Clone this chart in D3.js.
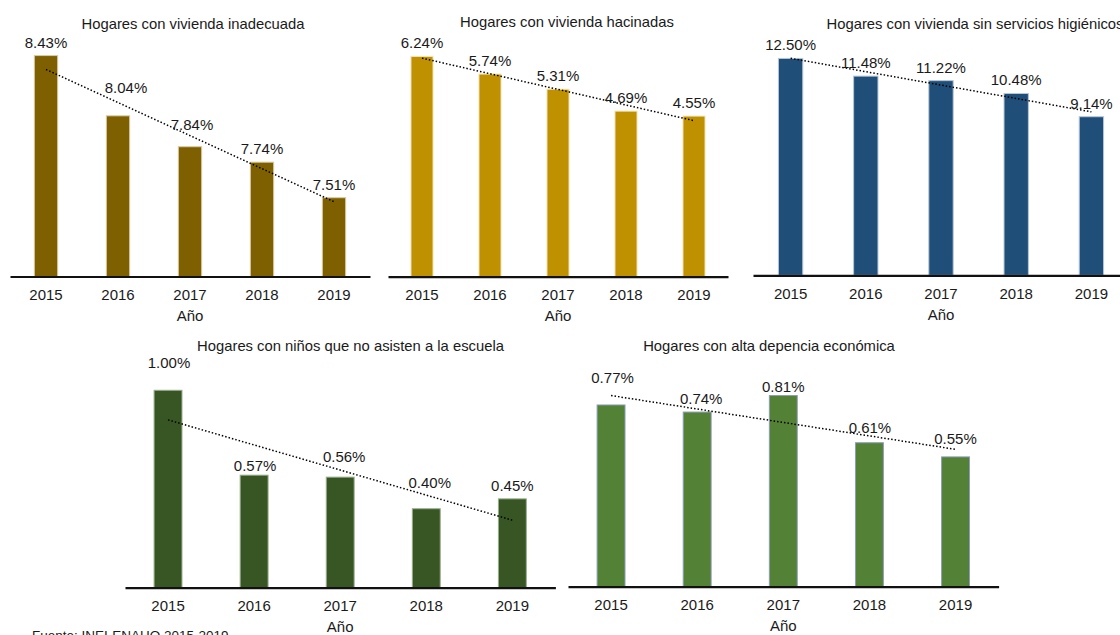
<!DOCTYPE html>
<html>
<head>
<meta charset="utf-8">
<script src="https://cdn.jsdelivr.net/npm/d3@7"></script>
<style>
  body { margin: 0; background: #fff; }
  svg { display: block; font-family: "Liberation Sans", Arial, sans-serif; }
</style>
</head>
<body>
<svg id="chart" width="1120" height="635"></svg>
<script>
// data
var years = ["2015", "2016", "2017", "2018", "2019"];
var titles = [
  "Hogares con vivienda inadecuada",
  "Hogares con vivienda hacinadas",
  "Hogares con vivienda sin servicios higiénicos",
  "Hogares con niños que no asisten a la escuela",
  "Hogares con alta depencia económica"
];
var inadecuada = [8.43, 8.04, 7.84, 7.74, 7.51];
var hacinadas = [6.24, 5.74, 5.31, 4.69, 4.55];
var sinServicios = [12.50, 11.48, 11.22, 10.48, 9.14];
var ninosNoAsisten = [1.00, 0.57, 0.56, 0.40, 0.45];
var altaDependencia = [0.77, 0.74, 0.81, 0.61, 0.55];
var yDomains = [[7, 8.6], [0, 7], [0, 14], [0, 1.2], [0, 1.0]];

// layout / style
var panels = [
  { values: inadecuada, x0: 10, x1: 370, base: 276.5, top: 29.3, tx: 193, ty: 29,
    fill: "#7f6000", edge: "#d8cba6", lift: [0, 15, 9, 0, 0], dx: [0, 8, 2, 0, 0] },
  { values: hacinadas, x0: 388, x1: 728, base: 276.7, top: 29.6, tx: 567, ty: 27,
    fill: "#bf9000", edge: "#f2e3b3", lift: [0, 0, 0, 0, 0], dx: [0, 0, 0, 0, 0] },
  { values: sinServicios, x0: 753, x1: 1129, base: 275.3, top: 32.4, tx: 975, ty: 28.5,
    fill: "#1f4e79", edge: "#b8c7d8", lift: [0, 0, 0, 0, 0], dx: [0, 0, 0, 0, 0] },
  { values: ninosNoAsisten, x0: 125, x1: 555.4, base: 587.7, top: 350.8, tx: 350.5, ty: 351,
    fill: "#375623", edge: "#98ad8c", lift: [14, -4, 7, 13, 0], dx: [1, 1, 4, 3.5, 0] },
  { values: altaDependencia, x0: 568, x1: 998.6, base: 586.7, top: 350.7, tx: 769, ty: 351,
    fill: "#538135", edge: "#8d9db6", lift: [14, 0, -4, 2, 5], dx: [1.5, 4, 0, 0.5, 0] }
];

var svg = d3.select("#chart");

var pct = function(v) { return v.toFixed(2) + "%"; };

panels.forEach(function(p, k) {
  var x = d3.scaleBand()
    .domain(years)
    .range([p.x0, p.x1])
    .paddingInner(0.676)
    .paddingOuter(0.338);

  var y = d3.scaleLinear()
    .domain(yDomains[k])
    .range([p.base, p.top]);

  var g = svg.append("g");
  var rows = years.map(function(yr, i) { return { year: yr, value: p.values[i], i: i }; });

  // title
  g.append("text")
    .attr("x", p.tx)
    .attr("y", p.ty)
    .attr("text-anchor", "middle")
    .style("font-size", "14.8px")
    .style("fill", "#1a1a1a")
    .text(titles[k]);

  // bars
  g.selectAll(".bar")
    .data(rows)
    .enter().append("rect")
    .attr("class", "bar")
    .attr("x", function(d) { return x(d.year); })
    .attr("width", x.bandwidth())
    .attr("y", function(d) { return y(d.value); })
    .attr("height", function(d) { return p.base - y(d.value); })
    .style("fill", p.fill)
    .style("stroke", p.edge)
    .style("stroke-width", 1);

  // linear trend (least squares over year index)
  var n = rows.length;
  var mx = d3.mean(rows, function(d) { return d.i; });
  var my = d3.mean(rows, function(d) { return d.value; });
  var slope = d3.sum(rows, function(d) { return (d.i - mx) * (d.value - my); }) /
              d3.sum(rows, function(d) { return (d.i - mx) * (d.i - mx); });
  var trend = [0, n - 1].map(function(i) { return { year: years[i], value: my + slope * (i - mx) }; });

  g.append("path")
    .datum(trend)
    .attr("d", d3.line()
      .x(function(d) { return x(d.year) + x.bandwidth() / 2; })
      .y(function(d) { return y(d.value); }))
    .style("fill", "none")
    .style("stroke", "#000")
    .style("stroke-width", 1.5)
    .style("stroke-dasharray", "1.5,2");

  // value labels
  g.selectAll(".lbl")
    .data(rows)
    .enter().append("text")
    .attr("class", "lbl")
    .attr("x", function(d) { return x(d.year) + x.bandwidth() / 2 + p.dx[d.i]; })
    .attr("y", function(d) { return y(d.value) - 8 - p.lift[d.i]; })
    .attr("text-anchor", "middle")
    .style("font-size", "15px")
    .style("fill", "#1a1a1a")
    .text(function(d) { return pct(d.value); });

  // x axis
  var axis = g.append("g")
    .attr("transform", "translate(0," + p.base + ")")
    .call(d3.axisBottom(x).tickSize(0).tickSizeOuter(0).tickPadding(13));
  axis.select(".domain")
    .style("stroke", "#111")
    .style("stroke-width", 2.2);
  axis.selectAll("text")
    .style("font-size", "15px")
    .style("font-family", "'Liberation Sans', Arial, sans-serif")
    .style("fill", "#1a1a1a");

  g.append("text")
    .attr("x", (p.x0 + p.x1) / 2)
    .attr("y", p.base + 44.5)
    .attr("text-anchor", "middle")
    .style("font-size", "15px")
    .style("fill", "#1a1a1a")
    .text("Año");
});

svg.append("text")
  .attr("x", 32)
  .attr("y", 640)
  .style("font-size", "13.5px")
  .style("fill", "#1a1a1a")
  .text("Fuente: INEI-ENAHO 2015-2019");
</script>
</body>
</html>
